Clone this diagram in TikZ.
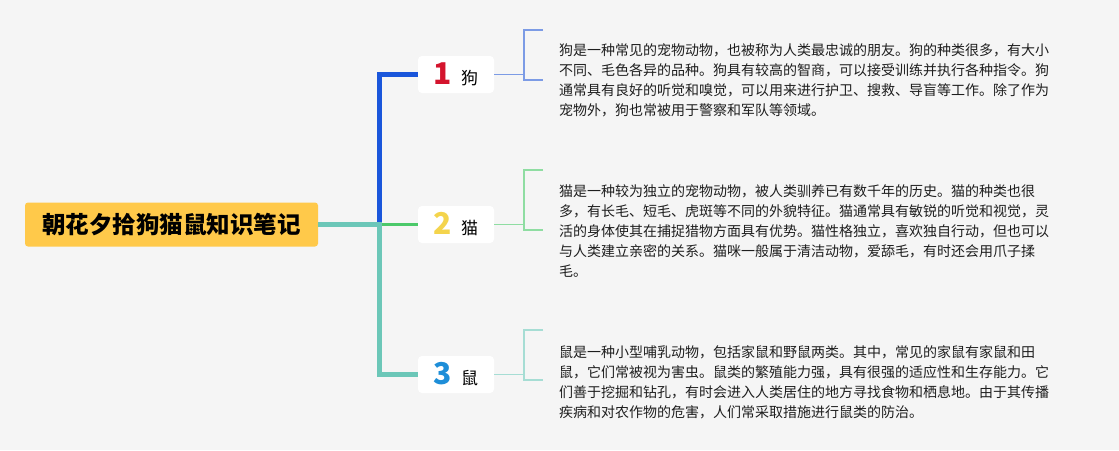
\documentclass[tikz,border=0pt]{standalone}
\usepackage{fontspec}
\usepackage{xcolor}
\usepackage{tikz}
\usetikzlibrary{positioning,calc}
\setmainfont{Noto Sans CJK SC}
\definecolor{bgc}{HTML}{F5F5F5}
\definecolor{rootc}{HTML}{FFC94A}
\definecolor{dogc}{HTML}{1A56DB}
\definecolor{catc}{HTML}{4CC96A}
\definecolor{ratc}{HTML}{6CC7B8}
\definecolor{dogl}{HTML}{7C9BE5}
\definecolor{catl}{HTML}{8FDDA2}
\definecolor{ratl}{HTML}{A6DDD4}
\definecolor{onec}{HTML}{D4142D}
\definecolor{twoc}{HTML}{F4D44C}
\definecolor{threec}{HTML}{1E8ED8}
\definecolor{txtc}{HTML}{1E1E1E}
\newcommand{\bnum}[2]{{\fontsize{30}{30}\selectfont\bfseries\textcolor{#1}{#2}}}
\newcommand{\bname}[1]{{\fontsize{17}{17}\selectfont #1}}

\begin{document}
\begin{tikzpicture}[x=1pt, y=-1pt,
  rootbox/.style={fill=rootc, rounded corners=3pt, minimum width=293pt, minimum height=44pt, font=\fontsize{23.5}{23.5}\selectfont\bfseries},
  branch/.style={fill=white, rounded corners=4pt, minimum width=76pt, minimum height=37pt, inner sep=0pt},
  note/.style={anchor=base west, align=left, inner sep=0pt, text=txtc, font=\fontsize{14}{20}\selectfont}]
  \useasboundingbox (0,0) rectangle (1119,450);
  \fill[bgc] (0,0) rectangle (1119,450);
  % centre and branches
  \node[rootbox] (root) at (171.5,224.5) {朝花夕拾狗猫鼠知识笔记};
  \node[branch] (b1) at (456,74.5) {\bnum{onec}{1}\hspace{9pt}\bname{狗}};
  \node[branch] (b2) at (456,224.5) {\bnum{twoc}{2}\hspace{9pt}\bname{猫}};
  \node[branch] (b3) at (456,374.5) {\bnum{threec}{3}\hspace{9pt}\bname{鼠}};
  \coordinate (hub) at (379.5,224.5);
  \draw[dogc, line width=5pt] (hub) |- (b1.west);
  \draw[catc, line width=3.5pt] (hub) -- (b2.west);
  \draw[ratc, line width=5.5pt] (root.east) -- (hub) |- (b3.west);
  % brackets
  \foreach \i/\c/\h in {1/dogl/44.5, 2/catl/54.5, 3/ratl/44.5}{
    \coordinate (k\i) at ($(b\i.east)+(30,0)$);
    \draw[\c, line width=1.5pt] (b\i.east) -- (k\i);
    \draw[\c, line width=1.5pt] ($(k\i)+(19,-\h)$) -- ++(-19,0) |- ($(k\i)+(19,5.5)$);
  }
  % notes (anchored at the last line)
  \node[note] (t1) at (559,115.5) {狗是一种常见的宠物动物，也被称为人类最忠诚的朋友。狗的种类很多，有大小\\
    不同、毛色各异的品种。狗具有较高的智商，可以接受训练并执行各种指令。狗\\
    通常具有良好的听觉和嗅觉，可以用来进行护卫、搜救、导盲等工作。除了作为\\
    宠物外，狗也常被用于警察和军队等领域。};
  \node[note] (t2) at (559,276.5) {猫是一种较为独立的宠物动物，被人类驯养已有数千年的历史。猫的种类也很\\
    多，有长毛、短毛、虎斑等不同的外貌特征。猫通常具有敏锐的听觉和视觉，灵\\
    活的身体使其在捕捉猎物方面具有优势。猫性格独立，喜欢独自行动，但也可以\\
    与人类建立亲密的关系。猫咪一般属于清洁动物，爱舔毛，有时还会用爪子揉\\
    毛。};
  \node[note] (t3) at (559,417) {鼠是一种小型哺乳动物，包括家鼠和野鼠两类。其中，常见的家鼠有家鼠和田\\
    鼠，它们常被视为害虫。鼠类的繁殖能力强，具有很强的适应性和生存能力。它\\
    们善于挖掘和钻孔，有时会进入人类居住的地方寻找食物和栖息地。由于其传播\\
    疾病和对农作物的危害，人们常采取措施进行鼠类的防治。};
\end{tikzpicture}
\end{document}
